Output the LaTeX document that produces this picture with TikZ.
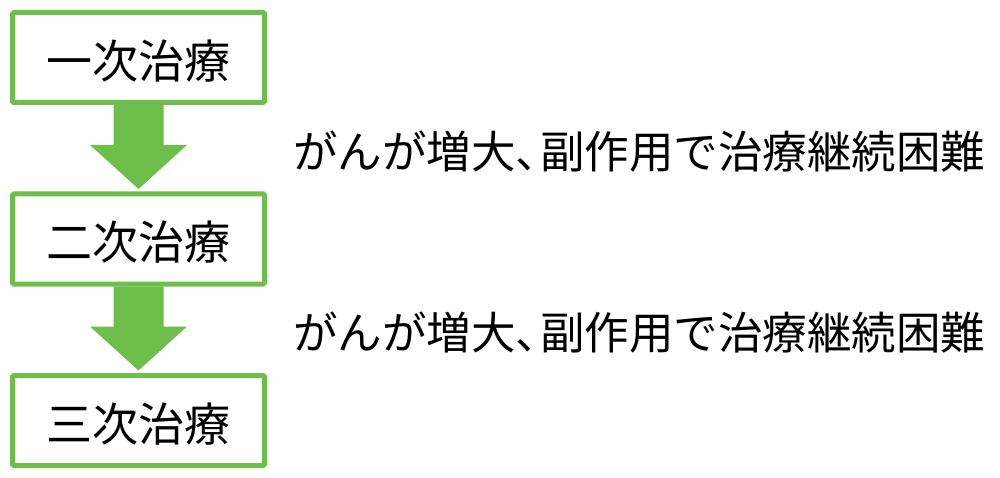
\documentclass[tikz,border=0pt]{standalone}
\usepackage{fontspec}
\newfontfamily\jp{Noto Sans CJK JP}
\usetikzlibrary{calc}
\definecolor{boxgreen}{RGB}{110,190,75}
\tikzset{
  stagebox/.style={draw=boxgreen, line width=5pt, fill=white, rounded corners=1.5pt,
    minimum width=252pt, minimum height=90pt, inner sep=0pt,
    font=\jp\fontsize{46pt}{50pt}\selectfont},
  reason/.style={anchor=base west, inner sep=0pt, font=\jp\fontsize{44.5pt}{48pt}\selectfont},
  flowarrow/.style={fill=boxgreen}
}
\newcommand{\lowertext}[1]{\raisebox{-3.5pt}[\height][\depth]{#1}}
\begin{document}
\begin{tikzpicture}[x=1pt,y=-1pt]
\useasboundingbox (0,0) rectangle (1000,478);
\fill[white] (0,0) rectangle (1000,478);
% boxes
\node[stagebox] (b1) at (138.5,57.5) {\lowertext{一次治療}};
\node[stagebox] (b2) at (138.5,239) {\lowertext{二次治療}};
\node[stagebox] (b3) at (138.5,420.5) {\lowertext{三次治療}};
% arrows
\coordinate (t1) at ($(b2.north)+(0,-2.5)$);
\coordinate (h1) at ($(t1)+(0,-44)$);
\fill[flowarrow] ($(b1.south)+(-25,0)$) -- ($(h1)+(-25,0)$) -- ($(h1)+(-48.5,0)$) -- (t1)
  -- ($(h1)+(48.5,0)$) -- ($(h1)+(25,0)$) -- ($(b1.south)+(25,0)$) -- cycle;
\coordinate (t2) at ($(b3.north)+(0,-2.5)$);
\coordinate (h2) at ($(t2)+(0,-44)$);
\fill[flowarrow] ($(b2.south)+(-25,0)$) -- ($(h2)+(-25,0)$) -- ($(h2)+(-48.5,0)$) -- (t2)
  -- ($(h2)+(48.5,0)$) -- ($(h2)+(25,0)$) -- ($(b2.south)+(25,0)$) -- cycle;
% reasons
\node[reason] (r1) at (293,169) {がんが増大、\kern-0.45em副作用で治療継続困難};
\node[reason] (r2) at (293,349) {がんが増大、\kern-0.45em副作用で治療継続困難};
\end{tikzpicture}
\end{document}
